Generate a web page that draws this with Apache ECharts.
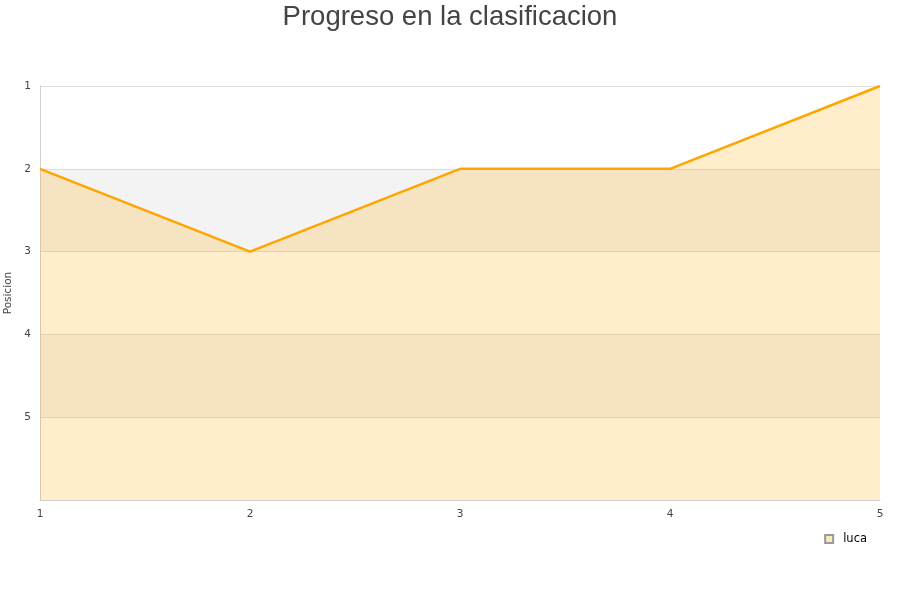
<!DOCTYPE html>
<html>
<head>
<meta charset="utf-8">
<script src="https://cdn.jsdelivr.net/npm/echarts@6/dist/echarts.min.js"></script>
<style>
html, body { margin: 0; padding: 0; background: #fff; }
#chart { width: 900px; height: 600px; }
</style>
</head>
<body>
<div id="chart"></div>
<script>
var jornadas = ['1', '2', '3', '4', '5'];
var posicionLuca = [2, 3, 2, 2, 1];
var ticksPosicion = [1, 2, 3, 4, 5];

var chart = echarts.init(document.getElementById('chart'));
var option = {
    animation: false,
    title: {
        text: 'Progreso en la clasificacion',
        left: 'center',
        top: -2,
        textStyle: { fontFamily: 'Liberation Sans', fontSize: 27.5, fontWeight: 'normal', color: '#444' }
    },
    legend: {
        data: ['luca'],
        right: 28,
        top: 528,
        itemWidth: 8,
        itemHeight: 8,
        itemGap: 5,
        icon: 'rect',
        textStyle: { fontFamily: 'DejaVu Sans', fontSize: 11.5, color: '#000', padding: [0, 0, 0, 5] }
    },
    grid: { left: 40, right: 20, top: 86, bottom: 100, outerBoundsMode: 'none', containLabel: false },
    xAxis: {
        type: 'category',
        data: jornadas,
        boundaryGap: false,
        axisLine: { lineStyle: { color: '#d0d0d0' } },
        axisTick: { show: false },
        axisLabel: { fontFamily: 'DejaVu Sans', fontSize: 10.5, color: '#444', margin: 9 },
        splitLine: { show: false }
    },
    yAxis: {
        type: 'value',
        inverse: true,
        min: 1,
        max: 6,
        interval: 1,
        name: 'Posicion',
        nameLocation: 'middle',
        nameGap: 24,
        nameTextStyle: { fontFamily: 'DejaVu Sans', fontSize: 10.5, color: '#444' },
        axisLine: { show: true, lineStyle: { color: '#d0d0d0' } },
        axisTick: { show: false },
        axisLabel: {
            fontFamily: 'DejaVu Sans', fontSize: 10.5, color: '#444', margin: 9,
            formatter: function (v) { return ticksPosicion.indexOf(v) >= 0 ? String(v) : ''; }
        },
        splitLine: { show: true, lineStyle: { color: '#e0ddd8' } },
        splitArea: { show: true, areaStyle: { color: ['#ffffff', '#f3f3f3'] } }
    },
    series: [{
        name: 'luca',
        type: 'line',
        data: posicionLuca,
        showSymbol: false,
        symbol: 'none',
        lineStyle: { color: '#ffa500', width: 2.5 },
        itemStyle: { color: '#ffe9c2', borderColor: '#999', borderWidth: 1 },
        areaStyle: { color: 'rgba(255,165,0,0.2)', opacity: 1, origin: 'end' }
    }]
};
chart.setOption(option);
</script>
</body>
</html>
